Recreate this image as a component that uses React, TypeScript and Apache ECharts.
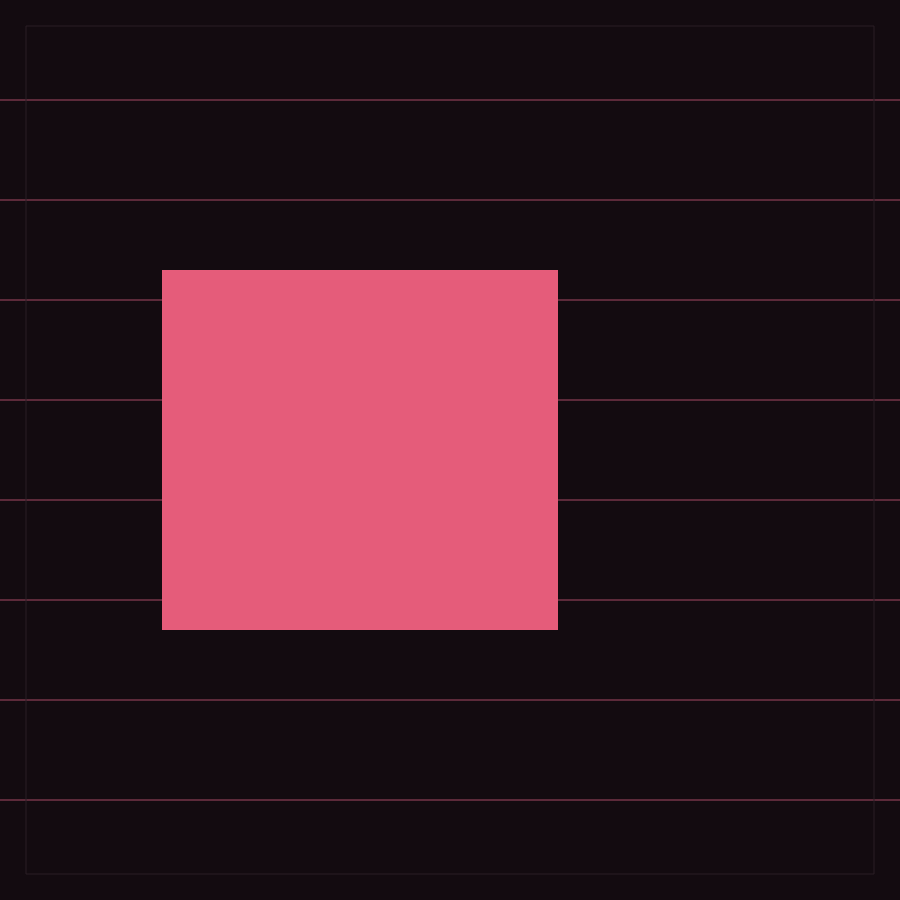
import React, { useEffect, useRef } from "react";
import * as echarts from "echarts";

// Block extents in chart units (x from left, y from top), 0..900 scale
const blockX = [162, 558];
const blockY = [270, 630];
// Horizontal guide spacing (chart units)
const guideStep = 100;

export default function App() {
  const ref = useRef<HTMLDivElement>(null);
  useEffect(() => {
    document.body.style.margin = "0";
    document.body.style.background = "#130b10";
    const chart = echarts.init(ref.current!, null, { renderer: "svg" });
    chart.setOption({
      animation: false,
      backgroundColor: "#130b10",
      grid: { left: 0, right: 0, top: 0, bottom: 0, containLabel: false },
      xAxis: {
        type: "value",
        min: 0,
        max: 900,
        axisLine: { show: false },
        axisTick: { show: false },
        axisLabel: { show: false },
        splitLine: { show: false },
      },
      yAxis: {
        type: "value",
        inverse: true,
        min: 0,
        max: 900,
        interval: guideStep,
        axisLine: { show: false },
        axisTick: { show: false },
        axisLabel: { show: false },
        splitLine: {
          show: true,
          showMinLine: false,
          showMaxLine: false,
          lineStyle: { color: "#5c2a3a", width: 2 },
        },
      },
      graphic: [
        {
          type: "rect",
          shape: { x: 26, y: 26, width: 848, height: 848 },
          style: { fill: "none", stroke: "#2a1f25", lineWidth: 1 },
          z: 100,
          silent: true,
        },
      ],
      series: [
        {
          type: "custom",
          renderItem: (params: any, api: any) => {
            const p0 = api.coord([api.value(0), api.value(1)]);
            const p1 = api.coord([api.value(2), api.value(3)]);
            return {
              type: "rect",
              shape: {
                x: Math.min(p0[0], p1[0]),
                y: Math.min(p0[1], p1[1]),
                width: Math.abs(p1[0] - p0[0]),
                height: Math.abs(p1[1] - p0[1]),
              },
              style: { fill: "#e55c7a" },
            };
          },
          data: [[blockX[0], blockY[0], blockX[1], blockY[1]]],
          encode: { x: [0, 2], y: [1, 3] },
          z: 10,
        },
      ],
    });
    return () => chart.dispose();
  }, []);
  return <div ref={ref} style={{ width: 900, height: 900 }} />;
}
